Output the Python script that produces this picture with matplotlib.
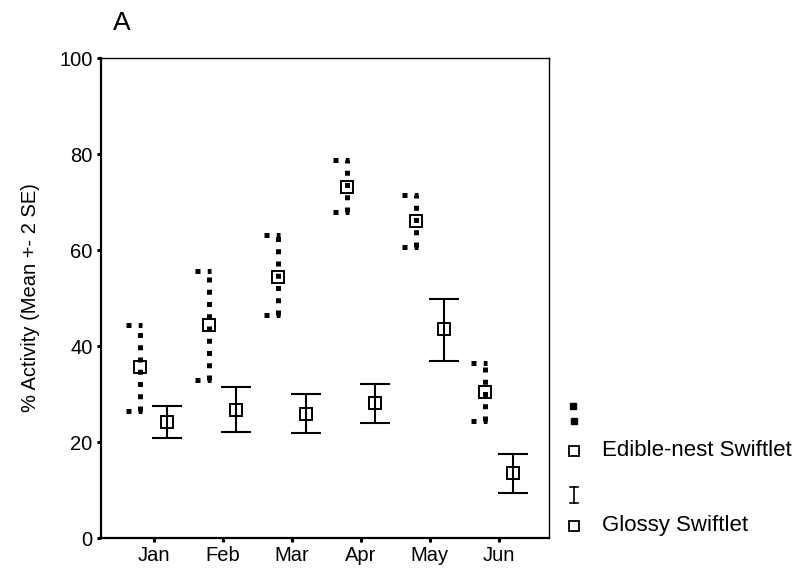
import numpy as np
import matplotlib.pyplot as plt

plt.rcParams['font.family'] = ['Liberation Sans', 'DejaVu Sans']

# data (mean, mean-2SE, mean+2SE)
months = ['Jan', 'Feb', 'Mar', 'Apr', 'May', 'Jun']
edible_mean = [35.6, 44.4, 54.4, 73.2, 66.1, 30.5]
edible_low = [26.5, 32.9, 46.5, 68.0, 60.7, 24.4]
edible_high = [44.4, 55.7, 63.1, 78.8, 71.5, 36.5]
glossy_mean = [24.1, 26.7, 25.8, 28.1, 43.5, 13.6]
glossy_low = [20.8, 22.1, 21.8, 24.0, 36.9, 9.3]
glossy_high = [27.4, 31.4, 30.1, 32.0, 49.7, 17.5]

x = np.arange(1, len(months) + 1)
xe = x - 0.2
xg = x + 0.2

fig = plt.figure(figsize=(8.02, 5.72), dpi=100)
ax = fig.add_axes([0.126, 0.0594, 0.5586, 0.8392])

# edible-nest: dotted error bars
dot = (0, (1, 1.45))
lw_dot = 3.6
ax.vlines(xe, edible_low, edible_high, colors='black', linewidth=lw_dot,
          linestyles=dot)
ax.hlines(edible_high, xe - 0.2, xe + 0.03, colors='black', linewidth=lw_dot,
          linestyles=dot)
ax.hlines(edible_low, xe - 0.2, xe + 0.03, colors='black', linewidth=lw_dot,
          linestyles=dot)
ax.plot(xe, edible_mean, 's', mfc='none', mec='black', ms=8, mew=1.4)

# glossy: solid error bars
gm = np.array(glossy_mean)
yerr = [gm - np.array(glossy_low), np.array(glossy_high) - gm]
ax.errorbar(xg, gm, yerr=yerr, fmt='none', ecolor='black', elinewidth=1.5,
            capsize=10.8, capthick=1.5)
ax.plot(xg, gm, 's', mfc='none', mec='black', ms=8, mew=1.4)

ax.set_xlim(0.24, 6.724)
ax.set_ylim(0, 100)
ax.set_xticks(x)
ax.set_xticklabels(months)
ax.set_yticks([0, 20, 40, 60, 80, 100])
ax.tick_params(direction='out', length=3, width=2.2, labelsize=14.5, pad=3)
ax.set_ylabel('% Activity (Mean +- 2 SE)', fontsize=14.5, labelpad=14)
for s in ['left', 'bottom']:
    ax.spines[s].set_linewidth(1.6)
for s in ['top', 'right']:
    ax.spines[s].set_linewidth(1.0)

fig.text(113 / 802, 1 - 23 / 572, 'A', fontsize=19, va='center', ha='left')

# legend drawn in pixel coordinates
lg = fig.add_axes([0, 0, 1, 1])
lg.set_xlim(0, 802)
lg.set_ylim(572, 0)
lg.axis('off')
lg.plot([573, 574], [406, 421], 's', color='black', ms=4.2)
lg.plot([574], [451], 's', mfc='none', mec='black', ms=7, mew=1.3)
lg.text(602, 451, 'Edible-nest Swiftlet', fontsize=16, va='center')
lg.plot([574, 574], [487, 503], color='black', lw=1.2)
lg.plot([570, 578], [487, 487], color='black', lw=1.2)
lg.plot([570, 578], [503, 503], color='black', lw=1.2)
lg.plot([574], [526], 's', mfc='none', mec='black', ms=7, mew=1.3)
lg.text(602, 526, 'Glossy Swiftlet', fontsize=16, va='center')

fig.savefig('out.png', dpi=100)
